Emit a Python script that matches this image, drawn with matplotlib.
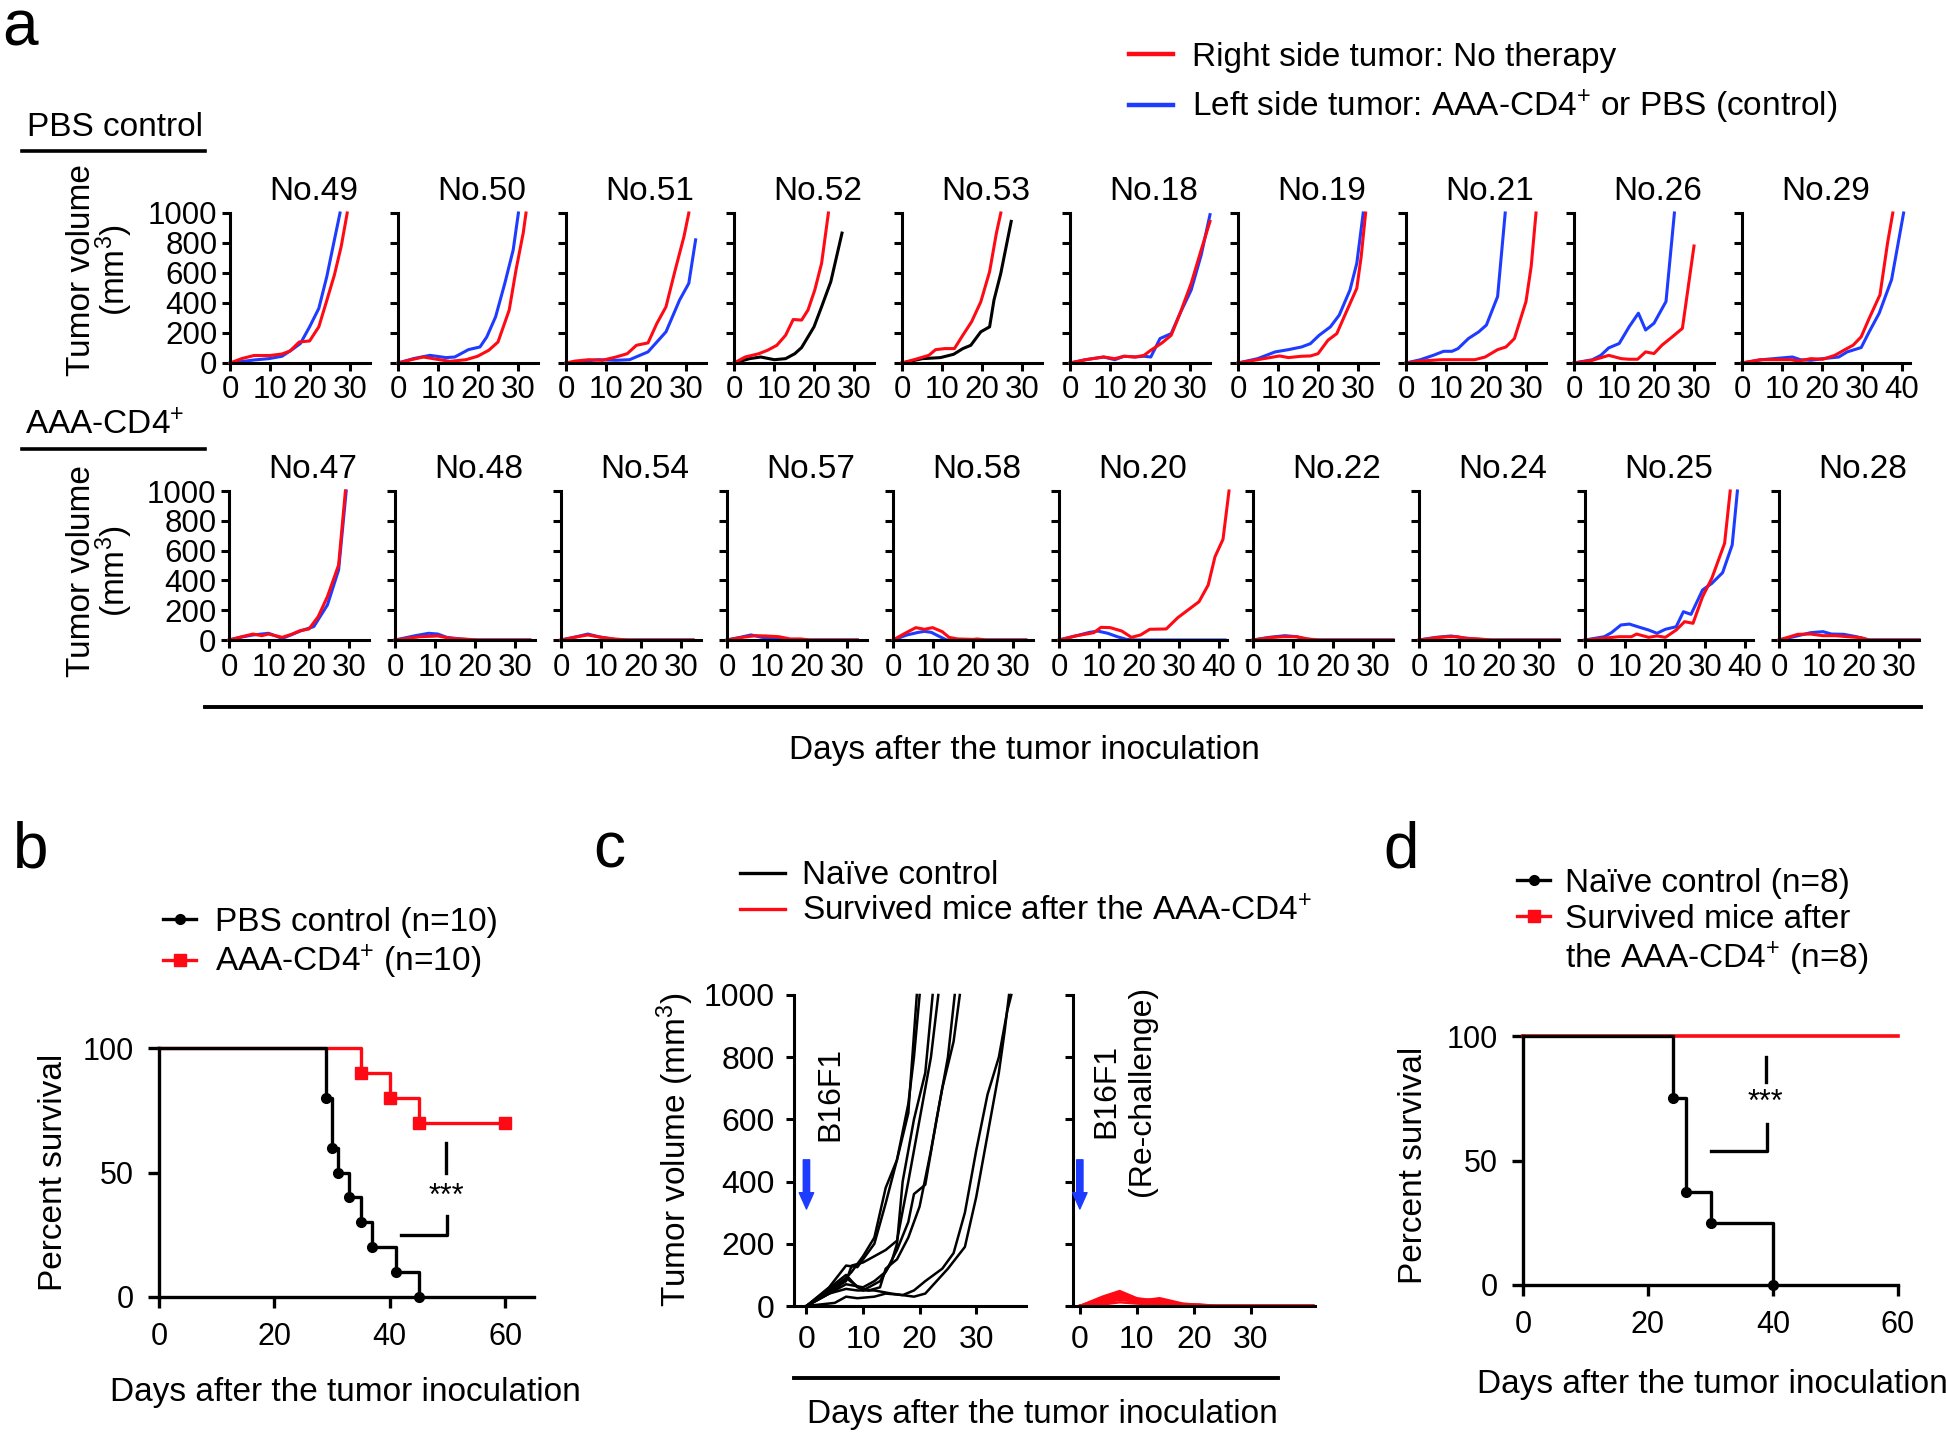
import numpy as np
import matplotlib
matplotlib.use("Agg")
import matplotlib.pyplot as plt
import matplotlib.transforms as mtransforms
from matplotlib.lines import Line2D

plt.rcParams['font.family'] = ['Liberation Sans', 'DejaVu Sans']
plt.rcParams['mathtext.fontset'] = 'custom'
plt.rcParams['mathtext.rm'] = 'Liberation Sans'
plt.rcParams['mathtext.it'] = 'Liberation Sans:italic'
plt.rcParams['mathtext.bf'] = 'Liberation Sans:bold'
plt.rcParams['mathtext.default'] = 'regular'

W, H = 1946, 1434
RED = '#ff0a14'
BLUE = '#1e3cff'

# ---- panel a : tumor growth per mouse, (day, volume mm3) ----
no49_blue = [(0,0),(3,10),(6,20),(9.7,29),(13,45),(15.3,85),(17.6,130),(19.9,241),(22.2,364),(24.2,576),(26.1,821),(27.5,1000)]
no49_red = [(0,0),(3,30),(6,50),(10,50),(13,60),(15,80),(17.3,140),(19.9,147),(22.2,241),(24.1,408),(26.1,587),(27.8,777),(29.3,1000)]
no50_blue = [(0,0),(4,30),(8,51),(12,36),(14.2,40),(17.6,89),(20.5,107),(22.2,174),(24.4,308),(26.7,531),(28.8,754),(30.1,1000)]
no50_red = [(0,0),(3,20),(6.3,40),(9.7,25),(13,11),(17,22),(19.9,45),(22.7,85),(25,140),(27.8,353),(29.5,620),(31.3,866),(32,1000)]
no51_blue = [(0,0),(4,10),(8,22),(12.5,18),(15.9,22),(20.5,74),(25,208),(28.4,420),(30.7,531),(32.4,821)]
no51_red = [(0,0),(2.3,13),(5.7,22),(9.1,18),(12.5,40),(15.3,62),(17.6,118),(20.5,134),(22.7,263),(25,375),(27.3,620),(29.5,844),(30.7,1000)]
no52_black = [(0,0),(3.9,29),(6.7,40),(10.1,22),(12.9,29),(15.2,62),(16.9,103),(20,241),(21.9,375),(24.2,542),(27,866)]
no52_red = [(0,0),(2.8,40),(6.2,62),(8.4,85),(10.7,118),(12.9,185),(14.8,290),(16.9,286),(18.5,353),(20.2,487),(21.9,665),(23.6,1000)]
no53_black = [(0,0),(5.1,29),(9.6,36),(12.9,58),(15.2,96),(17.2,118),(19.7,208),(21.9,241),(23,420),(24.7,598),(27.3,944)]
no53_red = [(0,0),(3.9,29),(6.7,51),(8.4,89),(10.7,96),(13.1,96),(15.2,185),(17.4,275),(19.7,408),(21.9,609),(23.6,866),(24.7,1000)]
no18_blue = [(0,0),(3.9,22),(8.4,40),(11.2,22),(13.5,45),(16.3,40),(18.5,45),(20.2,40),(22.5,163),(25.3,196),(27.5,330),(30.3,487),(32.8,720),(35,989)]
no18_red = [(0,0),(3.9,22),(8.4,40),(11.2,29),(13.5,45),(16.3,40),(18.5,51),(20.2,85),(23,134),(25.3,185),(27.5,330),(30.3,531),(32.8,754),(35,944)]
no19_blue = [(0,0),(4.9,29),(9.3,74),(12.6,89),(15.9,107),(18.1,129),(20.3,185),(23.1,241),(25.3,319),(28,487),(29.7,665),(31.3,1000)]
no19_red = [(0,0),(4.9,22),(10.4,47),(12.6,36),(15.9,45),(18.1,47),(20,62),(22.5,152),(24.7,196),(26.9,330),(29.7,498),(30.8,710),(31.9,1000)]
no21_blue = [(0,0),(3.6,22),(6.8,51),(9.4,78),(11.5,78),(13,96),(15.6,163),(18.2,208),(20.1,253),(22.9,443),(24.8,1000)]
no21_red = [(0,0),(3.6,13),(8.9,22),(14.1,22),(17.2,22),(19.8,40),(22.9,89),(25,107),(27.1,163),(30,410),(31.3,645),(32.5,1000)]
no26_blue = [(0,0),(4.6,22),(6.7,51),(8.7,101),(11.3,130),(13.8,242),(16.1,332),(17.9,220),(20,265),(23,410),(25.1,1000)]
no26_red = [(0,0),(4.6,18),(8.7,51),(11.8,29),(13.8,25),(15.9,25),(17.9,74),(20,63),(22,119),(24.6,175),(27.1,231),(30,780)]
no29_blue = [(0,0),(5,22),(12.6,40),(14.6,22),(17.2,18),(20.2,29),(24.2,40),(26.3,74),(29.8,103),(31.8,208),(34.3,332),(37.4,556),(40.4,1000)]
no29_red = [(0,0),(4.5,22),(8.1,22),(12.1,22),(14.1,13),(17.2,29),(20.2,25),(23.2,51),(25.8,90),(27.8,119),(29.8,175),(31.8,298),(34.5,455),(36.4,802),(37.7,1000)]

no47_blue = [(0,0),(3.2,20),(6,34),(9.9,45),(13.3,11),(15.6,35),(17.8,60),(21.2,90),(24.6,235),(27.4,470),(29.3,1000)]
no47_red = [(0,0),(3.2,22),(6,40),(8.2,29),(9.9,40),(11.6,29),(13.3,18),(15.6,38),(17.8,63),(20,74),(22.3,157),(24.6,291),(27.4,503),(29.1,1000)]
no48_blue = [(0,0),(5.1,29),(8.4,45),(10.7,40),(12.9,18),(16.3,7),(19.7,0),(33.7,0)]
no48_red = [(0,0),(6.2,22),(10.7,27),(14,11),(18.5,4),(20.8,0),(33.7,0)]
no54_blue = [(0,0),(3.9,22),(6.7,40),(9.4,22),(13.3,4),(15.6,0),(33,0)]
no54_red = [(0,0),(3.3,18),(6.7,34),(10,18),(13.3,7),(16.7,0),(33,0)]
no57_blue = [(0,0),(3.3,18),(6,34),(8.7,18),(11.4,11),(14.1,0),(32.6,0)]
no57_red = [(0,0),(3.3,16),(7.1,29),(9.8,27),(13,22),(15.8,7),(18.5,7),(20.7,0),(32.6,0)]
no58_blue = [(0,0),(3.5,34),(6.3,51),(7.9,58),(9.6,51),(11.2,29),(13.4,0),(33.2,0)]
no58_red = [(0,0),(3,45),(5.7,83),(7.9,72),(9.9,83),(12.3,56),(14,18),(16.2,7),(20,4),(21.1,7),(23.3,0),(33.2,0)]
no20_blue = [(0,0),(4.1,27),(7.6,51),(9.7,60),(12.2,45),(14.6,22),(16.9,4),(19.2,0),(41.5,0)]
no20_red = [(0,0),(4.1,27),(8.7,49),(10.5,85),(12.8,83),(15.7,60),(18.1,18),(20.4,34),(22.7,72),(26.8,74),(29.7,150),(35,257),(37.3,369),(39,559),(41,676),(42.5,1000)]
no22_blue = [(0,0),(4.1,18),(8,29),(10.9,22),(13.1,7),(15.4,0),(35,0)]
no22_red = [(0,0),(4.1,16),(7.5,22),(10.9,22),(13.7,7),(16.5,0),(35,0)]
no24_blue = [(0,0),(4.3,18),(8,27),(10.6,16),(13.8,7),(17,0),(35,0)]
no24_red = [(0,0),(4.3,16),(7.4,22),(9.6,22),(11.7,11),(14.9,7),(18.1,0),(35,0)]
no25_blue = [(0,0),(4.8,22),(6.6,49),(9,101),(11.1,107),(13.2,89),(15.9,67),(18,45),(20.1,72),(22.8,89),(24.6,190),(26.5,172),(29.4,336),(31.7,380),(34.4,452),(36.8,638),(38.1,1000)]
no25_red = [(0,0),(4.2,11),(8.5,22),(11.6,22),(12.9,40),(15.9,18),(18,27),(20.1,18),(22.8,67),(24.9,123),(27,112),(29.4,291),(31.7,414),(34.9,649),(36.3,1000)]
no28_blue = [(0,0),(3.7,22),(7.9,49),(11,56),(13.1,40),(16.2,38),(19.4,22),(22.5,0),(35,0)]
no28_red = [(0,0),(4.7,38),(7.9,40),(11,29),(14.1,29),(17.3,22),(20.4,16),(22.5,0),(35,0)]

pbs_mice = ["No.49", "No.50", "No.51", "No.52", "No.53", "No.18", "No.19", "No.21", "No.26", "No.29"]
aaa_mice = ["No.47", "No.48", "No.54", "No.57", "No.58", "No.20", "No.22", "No.24", "No.25", "No.28"]

pbs_curves = {
    "No.49": [(BLUE, no49_blue), (RED, no49_red)],
    "No.50": [(BLUE, no50_blue), (RED, no50_red)],
    "No.51": [(BLUE, no51_blue), (RED, no51_red)],
    "No.52": [('k', no52_black), (RED, no52_red)],
    "No.53": [('k', no53_black), (RED, no53_red)],
    "No.18": [(BLUE, no18_blue), (RED, no18_red)],
    "No.19": [(BLUE, no19_blue), (RED, no19_red)],
    "No.21": [(BLUE, no21_blue), (RED, no21_red)],
    "No.26": [(BLUE, no26_blue), (RED, no26_red)],
    "No.29": [(BLUE, no29_blue), (RED, no29_red)],
}
aaa_curves = {
    "No.47": [(BLUE, no47_blue), (RED, no47_red)],
    "No.48": [(BLUE, no48_blue), (RED, no48_red)],
    "No.54": [(BLUE, no54_blue), (RED, no54_red)],
    "No.57": [(BLUE, no57_blue), (RED, no57_red)],
    "No.58": [(BLUE, no58_blue), (RED, no58_red)],
    "No.20": [(BLUE, no20_blue), (RED, no20_red)],
    "No.22": [(BLUE, no22_blue), (RED, no22_red)],
    "No.24": [(BLUE, no24_blue), (RED, no24_red)],
    "No.25": [(BLUE, no25_blue), (RED, no25_red)],
    "No.28": [(BLUE, no28_blue), (RED, no28_red)],
}

# ---- panel b : survival ----
b_pbs_days = [0, 29, 30, 31, 33, 35, 37, 41, 45]
b_pbs_surv = [100, 80, 60, 50, 40, 30, 20, 10, 0]
b_aaa_days = [0, 35, 40, 45, 60]
b_aaa_surv = [100, 90, 80, 70, 70]
b_sig_top = ([49.8, 49.8], [50, 62])
b_sig_low = ([42, 50, 50], [25, 25, 32.5])
b_sig_text = (49.8, 40)

# ---- panel c : naive vs re-challenge ----
naive_1 = [(0,0),(4,60),(7,130),(9,125),(12,200),(14,330),(16,470),(18,650),(19,800),(20,1000)]
naive_2 = [(0,0),(5,50),(8,110),(10,160),(12,220),(14,380),(16,470),(18,620),(19.5,1000)]
naive_3 = [(0,0),(7,90),(10,50),(13,80),(15,140),(16,200),(17,400),(19,600),(21,750),(22.3,1000)]
naive_4 = [(0,0),(7,80),(8,130),(10,140),(14,180),(16,210),(18,400),(20,600),(22,800),(23.3,1000)]
naive_5 = [(0,0),(7,70),(10,60),(12,80),(14,110),(16,180),(18,270),(19,360),(21,390),(23,600),(25,800),(26.2,1000)]
naive_6 = [(0,0),(7,100),(9,60),(11,50),(13,60),(14,120),(16,150),(18,220),(20,320),(22,500),(24,700),(26,850),(27.1,1000)]
naive_7 = [(0,0),(5,10),(7,30),(9,25),(12,30),(14,40),(17,35),(19,30),(21,40),(23,80),(25,120),(28,190),(30,350),(32,550),(34,750),(35,880),(35.8,1000)]
naive_8 = [(0,0),(4,40),(7,55),(9,50),(12,50),(15,40),(17,35),(19,50),(21,80),(24,120),(26,170),(28,300),(30,500),(32,680),(34,800),(35.5,950),(36.2,1000)]
naive_mice = [naive_1, naive_2, naive_3, naive_4, naive_5, naive_6, naive_7, naive_8]

rechal_1 = [(0,0),(4,25),(7,45),(10,20),(14,20),(18,5),(21,5),(24,0),(41,0)]
rechal_2 = [(0,0),(4,20),(7,35),(10,15),(14,25),(18,8),(21,3),(24,0),(41,0)]
rechal_3 = [(0,0),(4,15),(7,30),(10,20),(14,10),(18,5),(24,0),(41,0)]
rechal_4 = [(0,0),(4,10),(7,20),(10,15),(14,5),(18,0),(41,0)]
rechal_5 = [(0,0),(4,30),(7,48),(10,25),(14,15),(18,5),(21,0),(41,0)]
rechal_6 = [(0,0),(4,5),(7,12),(10,8),(14,3),(18,0),(41,0)]
rechal_7 = [(0,0),(4,18),(7,40),(10,22),(14,8),(18,3),(21,0),(41,0)]
rechal_8 = [(0,0),(4,8),(7,25),(10,10),(14,12),(18,4),(21,0),(41,0)]
rechal_mice = [rechal_1, rechal_2, rechal_3, rechal_4, rechal_5, rechal_6, rechal_7, rechal_8]

# ---- panel d : survival after re-challenge ----
d_naive_days = [0, 24, 26, 30, 40]
d_naive_surv = [100, 75, 37.5, 25, 0]
d_surv_days = [0, 60]
d_surv_surv = [100, 100]
d_sig_top = ([38.8, 38.8], [81.6, 91.6])
d_sig_low = ([30.1, 39.1, 39.1], [54, 54, 64.7])
d_sig_text = (38.8, 73)

fig = plt.figure(figsize=(W / 100, H / 100), dpi=100)


def px_box(left, top, right, bottom):
    return [left / W, 1 - bottom / H, (right - left) / W, (bottom - top) / H]


def fxy(x, y):
    return (x / W, 1 - y / H)


def style_axes(ax, lw=2.2, size=21, pad=3, length=6):
    for s in ['top', 'right']:
        ax.spines[s].set_visible(False)
    for s in ['left', 'bottom']:
        ax.spines[s].set_linewidth(lw)
        ax.spines[s].set_capstyle('projecting')
    ax.tick_params(direction='out', width=lw, length=length, labelsize=size, pad=pad)
    ax.patch.set_alpha(0)


def draw_row(mice, curves, top, bottom, left0, gap):
    x = left0
    for i, name in enumerate(mice):
        last = max(p[0] for _, pts in curves[name] for p in pts)
        wide = last > 37
        xmax = 42 if wide else 35
        width = xmax * 4
        ax = fig.add_axes(px_box(x, top, x + width, bottom))
        for color, pts in curves[name]:
            d, v = zip(*pts)
            ax.plot(d, v, color=color, lw=2.2, clip_on=False)
        ax.set_xlim(0, xmax)
        ax.set_ylim(0, 1000)
        ax.set_xticks(np.arange(0, 41 if wide else 31, 10))
        ax.set_yticks(np.arange(0, 1001, 200))
        if i > 0:
            ax.set_yticklabels([])
        style_axes(ax, size=22.5, pad=3, length=6)
        trans = mtransforms.blended_transform_factory(ax.transData, ax.transAxes)
        ax.text(21, 1.09, name, transform=trans, ha='center', va='baseline', fontsize=24)
        x += width + gap


# panel a
draw_row(pbs_mice, pbs_curves, 213, 363, 230, 28)
draw_row(aaa_mice, aaa_curves, 491, 640, 229, 26)

for yc in (270, 571):
    fig.text(*fxy(81, yc), "Tumor volume", rotation=90, ha='center', va='center', fontsize=24)
    fig.text(*fxy(114, yc), "(mm$^3$)", rotation=90, ha='center', va='center', fontsize=24)

fig.text(*fxy(115, 128), "PBS control", ha='center', va='center', fontsize=24)
fig.text(*fxy(105, 426), "AAA-CD4$^{+}$", ha='center', va='center', fontsize=24)
for yl in (151, 449):
    fig.add_artist(Line2D([22 / W, 205 / W], [1 - yl / H] * 2, color='k', lw=2.6))
fig.add_artist(Line2D([205 / W, 1921 / W], [1 - 707 / H] * 2, color='k', lw=2.8))
fig.text(*fxy(1024, 750), "Days after the tumor inoculation", ha='center', va='center', fontsize=24)

fig.legend([Line2D([], [], color=RED, lw=3.2), Line2D([], [], color=BLUE, lw=3.2)],
           ["Right side tumor: No therapy", "Left side tumor: AAA-CD4$^{+}$ or PBS (control)"],
           loc='center left', bbox_to_anchor=fxy(1129, 84), frameon=False, fontsize=24,
           handlelength=1.33, handletextpad=0.55, labelspacing=0.45, borderpad=0, borderaxespad=0)

# panel b
axb = fig.add_axes(px_box(159, 1048, 534, 1297))
axb.step(b_aaa_days, b_aaa_surv, where='post', color=RED, lw=2.4, clip_on=False)
axb.plot(b_aaa_days[1:], b_aaa_surv[1:], 's', color=RED, ms=8, clip_on=False)
axb.step(b_pbs_days, b_pbs_surv, where='post', color='k', lw=2.4, clip_on=False)
axb.plot(b_pbs_days[1:], b_pbs_surv[1:], 'o', color='k', ms=7, clip_on=False)
axb.plot(*b_sig_top, color='k', lw=2.4)
axb.plot(*b_sig_low, color='k', lw=2.4)
axb.text(*b_sig_text, "***", ha='center', va='center', fontsize=22)
axb.set_xlim(0, 65)
axb.set_ylim(0, 100)
axb.set_xticks([0, 20, 40, 60])
axb.set_yticks([0, 50, 100])
style_axes(axb, lw=2.4, size=22, pad=10, length=8)
fig.text(*fxy(54, 1172), "Percent survival", rotation=90, ha='center', va='center', fontsize=24)
fig.text(*fxy(345, 1392), "Days after the tumor inoculation", ha='center', va='center', fontsize=24)
fig.legend([Line2D([], [], color='k', lw=2.4, marker='o', ms=7),
            Line2D([], [], color=RED, lw=2.4, marker='s', ms=8)],
           ["PBS control (n=10)", "AAA-CD4$^{+}$ (n=10)"],
           loc='center left', bbox_to_anchor=fxy(163, 944), frameon=False, fontsize=24,
           handlelength=1.0, handletextpad=0.57, labelspacing=0.15, borderpad=0, borderaxespad=0)

# panel c
axc1 = fig.add_axes(px_box(794, 995, 1026, 1306))
axc2 = fig.add_axes(px_box(1073, 995, 1315, 1306))
for ax, group, color, xlim in ((axc1, naive_mice, 'k', (-2.2, 38.8)),
                               (axc2, rechal_mice, RED, (-1.2, 41.3))):
    for pts in group:
        d, v = zip(*pts)
        ax.plot(d, v, color=color, lw=1.8, clip_on=False)
    ax.set_xlim(*xlim)
    ax.set_ylim(0, 1000)
    ax.set_xticks([0, 10, 20, 30])
    ax.set_yticks(np.arange(0, 1001, 200))
    ax.annotate('', xy=(0, 312), xytext=(0, 470),
                arrowprops=dict(arrowstyle='simple,head_width=0.8,tail_width=0.35,head_length=0.9',
                                fc=BLUE, ec=BLUE, lw=1.0, mutation_scale=13,
                                shrinkA=0, shrinkB=0))
axc2.set_yticklabels([])
for ax in (axc1, axc2):
    style_axes(ax, lw=2.2, size=23, pad=8, length=6)
axc1.text(4.2, 682, "B16F1", rotation=90, ha='center', va='center', fontsize=23)
axc2.text(7.8, 690, "B16F1\n(Re-challenge)", rotation=90, ha='center', va='center',
          multialignment='center', fontsize=23, linespacing=1.25)
fig.text(*fxy(675, 1150), "Tumor volume (mm$^3$)", rotation=90, ha='center', va='center', fontsize=24)
fig.add_artist(Line2D([794 / W, 1278 / W], [1 - 1378 / H] * 2, color='k', lw=2.8))
fig.text(*fxy(1042, 1414), "Days after the tumor inoculation", ha='center', va='center', fontsize=24)
fig.legend([Line2D([], [], color='k', lw=2.4), Line2D([], [], color=RED, lw=2.4)],
           ["Naïve control", "Survived mice after the AAA-CD4$^{+}$"],
           loc='center left', bbox_to_anchor=fxy(740, 894), frameon=False, fontsize=24,
           handlelength=1.35, handletextpad=0.5, labelspacing=0.15, borderpad=0, borderaxespad=0)

# panel d
axd = fig.add_axes(px_box(1523, 1036, 1898, 1285))
axd.plot(d_surv_days, d_surv_surv, color=RED, lw=2.6, clip_on=False)
axd.step(d_naive_days, d_naive_surv, where='post', color='k', lw=2.4, clip_on=False)
axd.plot(d_naive_days[1:], d_naive_surv[1:], 'o', color='k', ms=7, clip_on=False)
axd.plot(*d_sig_top, color='k', lw=2.4)
axd.plot(*d_sig_low, color='k', lw=2.4)
axd.text(*d_sig_text, "***", ha='center', va='center', fontsize=22)
axd.set_xlim(0, 60)
axd.set_ylim(0, 100)
axd.set_xticks([0, 20, 40, 60])
axd.set_yticks([0, 50, 100])
style_axes(axd, lw=2.4, size=22, pad=10, length=8)
fig.text(*fxy(1414, 1165), "Percent survival", rotation=90, ha='center', va='center', fontsize=24)
fig.text(*fxy(1712, 1384), "Days after the tumor inoculation", ha='center', va='center', fontsize=24)
fig.legend([Line2D([], [], color='k', lw=2.4, marker='o', ms=7),
            Line2D([], [], color=RED, lw=2.4, marker='s', ms=8),
            Line2D([], [], color='none')],
           ["Naïve control (n=8)", "Survived mice after", "the AAA-CD4$^{+}$ (n=8)"],
           loc='center left', bbox_to_anchor=fxy(1517, 923), frameon=False, fontsize=24,
           handlelength=1.0, handletextpad=0.45, labelspacing=0.15, borderpad=0, borderaxespad=0)

# panel letters
for letter, (lx, ly) in zip("abcd", [(20, 28), (31, 850), (609, 850), (1401, 851)]):
    fig.text(*fxy(lx, ly), letter, ha='center', va='center', fontsize=46)

fig.savefig("out.png", dpi=100)
